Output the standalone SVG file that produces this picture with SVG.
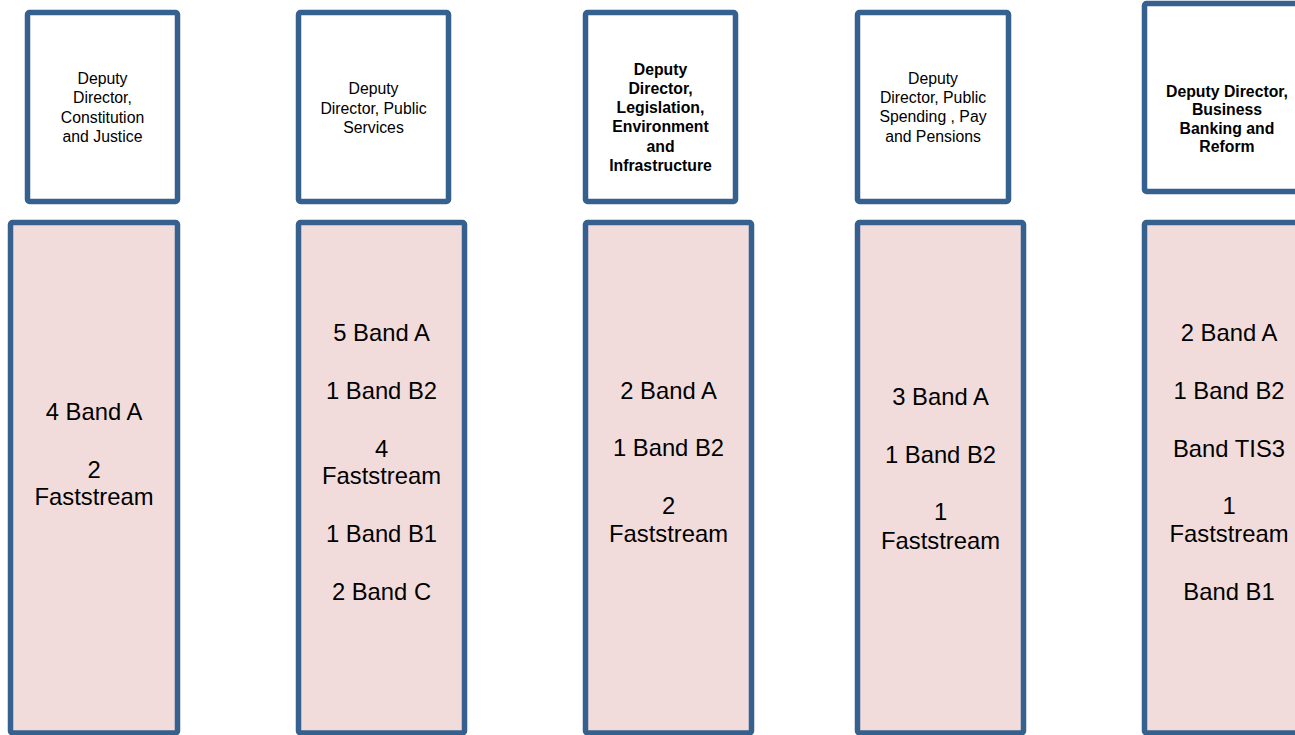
<svg xmlns="http://www.w3.org/2000/svg" width="1295" height="735" viewBox="0 0 1295 735">
  <style>
    .head { fill: #ffffff; stroke: #36618F; stroke-width: 5.5; }
    .body { fill: #F2DCDB; stroke: #36618F; stroke-width: 5.5; }
    .ht { font-family: "Liberation Sans", Arial, sans-serif; font-size: 15.8px; fill: #000; text-anchor: middle; }
    .hb { font-weight: bold; }
    .bt { font-family: "Liberation Sans", Arial, sans-serif; font-size: 23.8px; fill: #000; text-anchor: middle; }
  </style>
  <rect width="1295" height="735" fill="#ffffff"/>

  <!-- Deputy Director: Constitution and Justice -->
  <g id="dd-constitution">
    <rect class="head" x="27.5" y="12.5" width="150" height="189" rx="2"/>
    <text class="ht" x="102.5" y="84">Deputy</text>
    <text class="ht" x="102.5" y="103.3">Director,</text>
    <text class="ht" x="102.5" y="122.5">Constitution</text>
    <text class="ht" x="102.5" y="141.7">and Justice</text>
  </g>
  <g id="team-constitution">
    <rect class="body" x="10.5" y="222.5" width="167" height="510.5" rx="2"/>
    <text class="bt" x="94" y="420">4 Band A</text>
    <text class="bt" x="94" y="478">2</text>
    <text class="bt" x="94" y="505">Faststream</text>
  </g>

  <!-- Deputy Director: Public Services -->
  <g id="dd-public-services">
    <rect class="head" x="298.5" y="12.5" width="150" height="189" rx="2"/>
    <text class="ht" x="373.5" y="94.3">Deputy</text>
    <text class="ht" x="373.5" y="113.5">Director, Public</text>
    <text class="ht" x="373.5" y="132.7">Services</text>
  </g>
  <g id="team-public-services">
    <rect class="body" x="298.5" y="222.5" width="166" height="510.5" rx="2"/>
    <text class="bt" x="381.5" y="341">5 Band A</text>
    <text class="bt" x="381.5" y="399">1 Band B2</text>
    <text class="bt" x="381.5" y="457">4</text>
    <text class="bt" x="381.5" y="484">Faststream</text>
    <text class="bt" x="381.5" y="542">1 Band B1</text>
    <text class="bt" x="381.5" y="600">2 Band C</text>
  </g>

  <!-- Deputy Director: Legislation, Environment and Infrastructure -->
  <g id="dd-legislation">
    <rect class="head" x="585.5" y="12.5" width="150" height="189" rx="2"/>
    <text class="ht hb" x="660.5" y="75">Deputy</text>
    <text class="ht hb" x="660.5" y="94.1">Director,</text>
    <text class="ht hb" x="660.5" y="113.2">Legislation,</text>
    <text class="ht hb" x="660.5" y="132.4">Environment</text>
    <text class="ht hb" x="660.5" y="151.5">and</text>
    <text class="ht hb" x="660.5" y="170.7">Infrastructure</text>
  </g>
  <g id="team-legislation">
    <rect class="body" x="585.5" y="222.5" width="166" height="510.5" rx="2"/>
    <text class="bt" x="668.5" y="399">2 Band A</text>
    <text class="bt" x="668.5" y="456">1 Band B2</text>
    <text class="bt" x="668.5" y="514">2</text>
    <text class="bt" x="668.5" y="542">Faststream</text>
  </g>

  <!-- Deputy Director: Public Spending, Pay and Pensions -->
  <g id="dd-public-spending">
    <rect class="head" x="857.5" y="12.5" width="151" height="189" rx="2"/>
    <text class="ht" x="933" y="84">Deputy</text>
    <text class="ht" x="933" y="103.2">Director, Public</text>
    <text class="ht" x="933" y="122.4">Spending , Pay</text>
    <text class="ht" x="933" y="141.6">and Pensions</text>
  </g>
  <g id="team-public-spending">
    <rect class="body" x="857.5" y="222.5" width="166" height="510.5" rx="2"/>
    <text class="bt" x="940.5" y="405">3 Band A</text>
    <text class="bt" x="940.5" y="463">1 Band B2</text>
    <text class="bt" x="940.5" y="520">1</text>
    <text class="bt" x="940.5" y="549">Faststream</text>
  </g>

  <!-- Deputy Director: Business Banking and Reform -->
  <g id="dd-business-banking">
    <rect class="head" x="1144.5" y="3.5" width="165" height="188" rx="2"/>
    <text class="ht hb" x="1227" y="96.7">Deputy Director,</text>
    <text class="ht hb" x="1227" y="115.3">Business</text>
    <text class="ht hb" x="1227" y="133.8">Banking and</text>
    <text class="ht hb" x="1227" y="152.3">Reform</text>
  </g>
  <g id="team-business-banking">
    <rect class="body" x="1144.5" y="222.5" width="166" height="510.5" rx="2"/>
    <text class="bt" x="1229" y="341">2 Band A</text>
    <text class="bt" x="1229" y="399">1 Band B2</text>
    <text class="bt" x="1229" y="457">Band TIS3</text>
    <text class="bt" x="1229" y="514">1</text>
    <text class="bt" x="1229" y="542">Faststream</text>
    <text class="bt" x="1229" y="600">Band B1</text>
  </g>

  <!-- no connectors are drawn between the columns -->
  <g id="connectors"/>
</svg>
